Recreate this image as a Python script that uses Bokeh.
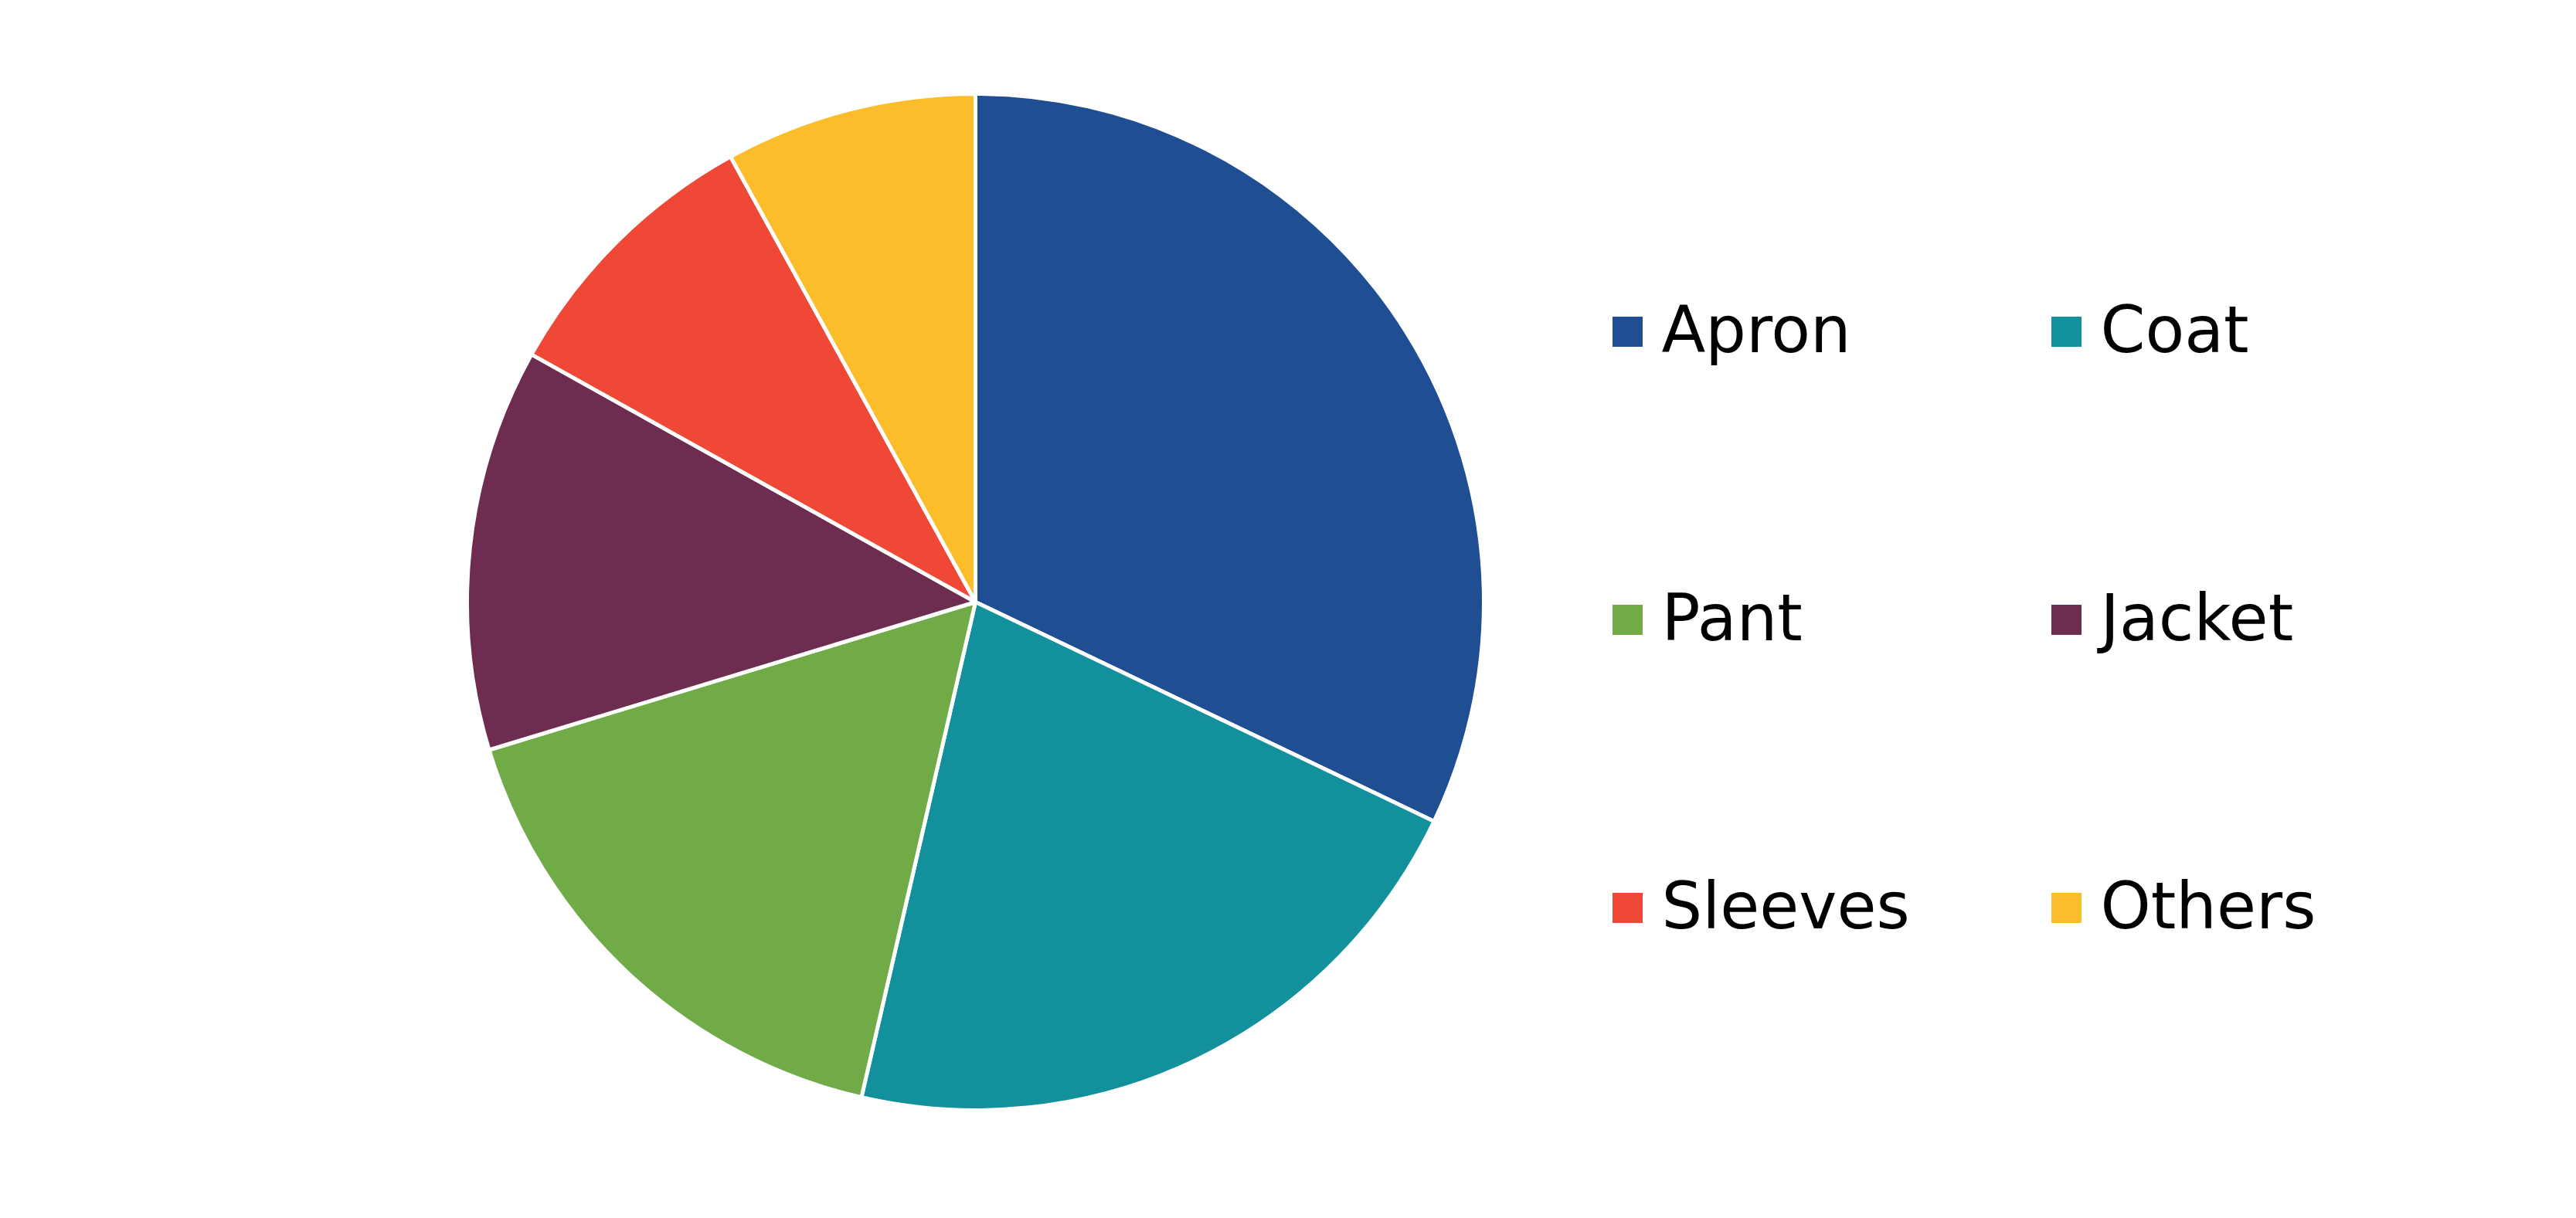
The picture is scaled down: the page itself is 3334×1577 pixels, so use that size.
import numpy as np
from bokeh.plotting import figure
from bokeh.models import ColumnDataSource, Range1d
from bokeh.core.properties import value
from bokeh.embed import file_html
from bokeh.resources import INLINE


## Data (share in percent)
categories = ["Apron", "Coat", "Pant", "Jacket", "Sleeves", "Others"]
shares = [32.1, 21.5, 16.7, 12.8, 8.9, 8.0]
colors = ["#1F4E92", "#12919D", "#70AB48", "#6D2C50", "#EF4837", "#FBBD2A"]


W, H = 3316, 1560

p = figure(width=W, height=H, x_range=Range1d(0, W), y_range=Range1d(0, H),
           output_backend="svg", toolbar_location=None, min_border=0)
p.axis.visible = False
p.grid.visible = False
p.outline_line_color = None
p.background_fill_color = "white"

## pie, clockwise from 12 o'clock
frac = np.array(shares) / np.sum(shares)
cum = np.concatenate([[0], np.cumsum(frac)])
start = np.pi / 2 - cum[:-1] * 2 * np.pi
end = np.pi / 2 - cum[1:] * 2 * np.pi

pie = ColumnDataSource(dict(cat=categories, start=start, end=end, color=colors))
p.wedge(x=1262, y=781, radius=658, start_angle="start", end_angle="end",
        direction="clock", fill_color="color", line_color="white",
        line_width=5, source=pie)

## legend in two columns, three rows
col_x = [2106, 2674]
row_y = [1131, 758, 385]
lx, ly, tx, ty = [], [], [], []
for i, c in enumerate(categories):
    col, row = i % 2, i // 2
    lx.append(col_x[col])
    ly.append(row_y[row])
    tx.append(col_x[col] + 44)
    ty.append(row_y[row] + 2)

leg = ColumnDataSource(dict(x=lx, y=ly, tx=tx, ty=ty, label=categories, color=colors))
p.rect(x="x", y="y", width=39, height=39, fill_color="color", line_color=None, source=leg)
p.text(x="tx", y="ty", text="label", source=leg, text_font=value("DejaVu Sans"),
       text_font_size="83px", text_color="black", text_baseline="alphabetic",
       text_align="left")

open("out.html", "w").write(file_html(p, INLINE))
